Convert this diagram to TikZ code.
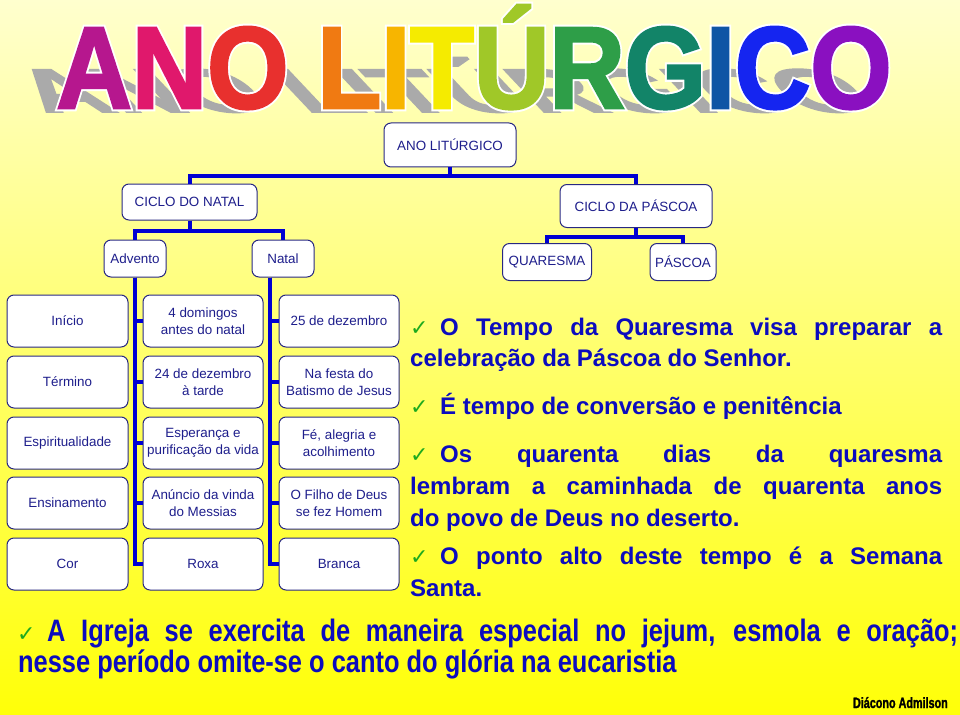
\documentclass[tikz,border=0pt]{standalone}
\usepackage{fontspec}
\setmainfont{Liberation Sans}
\newfontfamily\dejavu{DejaVu Sans}
\newfontfamily\narrowf[FakeStretch=0.82]{Liberation Sans}
\newfontfamily\sigf[FakeStretch=0.72,FakeBold=1.5]{Liberation Sans}
\newfontfamily\titlef[FakeBold=2.5]{Liberation Sans}
\newfontfamily\titleoutf[FakeBold=6]{Liberation Sans}
\usetikzlibrary{calc}
\definecolor{boxc}{RGB}{40,40,130}
\definecolor{txtc}{RGB}{30,30,140}
\definecolor{linec}{RGB}{0,0,210}
\definecolor{bluetxt}{RGB}{12,12,190}
\definecolor{chkc}{RGB}{30,170,30}
\definecolor{bgtop}{RGB}{255,255,206}
\definecolor{bgmid}{RGB}{255,255,140}
\definecolor{bgbot}{RGB}{255,255,8}
\definecolor{shadowc}{RGB}{170,170,170}
\definecolor{t1}{RGB}{182,23,142}
\definecolor{t2}{RGB}{224,24,108}
\definecolor{t3}{RGB}{232,48,46}
\definecolor{t4}{RGB}{240,122,18}
\definecolor{t5}{RGB}{247,181,0}
\definecolor{t6}{RGB}{245,235,0}
\definecolor{t7}{RGB}{160,200,40}
\definecolor{t8}{RGB}{46,158,72}
\definecolor{t9}{RGB}{18,132,104}
\definecolor{t10}{RGB}{15,85,165}
\definecolor{t11}{RGB}{21,37,240}
\definecolor{t12}{RGB}{138,16,192}
\newcommand\lcc[2]{\textcolor{#1}{#2}}
\newcommand\lcp[2]{#2}
\newcommand\lc{\lcc}
\newcommand\titlebody{\fontsize{116}{116}\selectfont\bfseries\scalebox{0.9}[1]{\lc{t1}{A}\lc{t2}{N}\lc{t3}{O} \lc{t4}{L}\lc{t5}{I}\lc{t6}{T}\lc{t7}{Ú}\lc{t8}{R}\lc{t9}{G}\lc{t10}{I}\lc{t11}{C}\lc{t12}{O}}}
\newcommand\chk{{\dejavu\color{chkc}\fontsize{22}{22}\selectfont ✓}}
\begin{document}
\begin{tikzpicture}[x=1pt,y=-1pt,
  box/.style={draw=boxc, fill=white, line width=1pt, rounded corners=7pt, text=txtc, align=center, inner sep=0pt, font=\fontsize{13.4}{17}\selectfont},
  conn/.style={draw=linec, line width=4pt},
  bigtxt/.style={anchor=base west, inner sep=0pt, text=bluetxt, font=\fontsize{24}{32}\selectfont\bfseries},
  lowtxt/.style={anchor=base west, inner sep=0pt, text=bluetxt, font=\narrowf\fontsize{31}{31}\selectfont\bfseries},
  chkn/.style={anchor=base west, inner sep=0pt}]
\useasboundingbox (0,0) rectangle (960,714);
\fill[top color=bgtop, middle color=bgmid, bottom color=bgbot] (0,0) rectangle (960,714);

% title shadow
\begin{scope}[shift={(462,112)}, yscale=0.53, xslant=-0.5]
  \node[transform shape, anchor=base, inner sep=0pt, text=shadowc, font=\titlef] (tshadow) at (0,0) {\let\lc\lcp\titlebody};
\end{scope}
% title white outline and letters
\node[anchor=base, inner sep=0pt, text=white, font=\titleoutf] (tout) at (474,108) {\let\lc\lcp\titlebody};
\node[anchor=base, inner sep=0pt, font=\titlef] (title) at (474,108) {\titlebody};

% tree
\node[box, minimum width=132pt, minimum height=44pt] (ano) at (450,145) {ANO LITÚRGICO};
\node[box, minimum width=135pt, minimum height=36pt] (cn) at (189.5,202) {CICLO DO NATAL};
\node[box, minimum width=152pt, minimum height=43pt] (cp) at (636,206) {CICLO DA PÁSCOA};
\node[box, minimum width=62pt, minimum height=37pt] (adv) at (135,258.5) {Advento};
\node[box, minimum width=62pt, minimum height=37pt] (nat) at (283,258.5) {Natal};
\node[box, minimum width=89pt, minimum height=37pt] (qua) at (547,262) {QUARESMA};
\node[box, minimum width=66pt, minimum height=37pt] (pas) at (683,262) {PÁSCOA};

\draw[conn] (ano.south) -- ++(0,9) -| (cn.north);
\draw[conn] (ano.south) -- ++(0,9) -| (cp.north);
\draw[conn] (cn.south) -- ++(0,10) -| (adv.north);
\draw[conn] (cn.south) -- ++(0,10) -| (nat.north);
\draw[conn] (cp.south) -- ++(0,8.5) -| (qua.north);
\draw[conn] (cp.south) -- ++(0,8.5) -| (pas.north);

% grid
\foreach \r/\y/\a/\b/\c in {
  1/321/{Início}/{4 domingos\\antes do natal}/{25 de dezembro},
  2/382/{Término}/{24 de dezembro\\à tarde}/{Na festa do\\Batismo de Jesus},
  3/443/{Espiritualidade}/{Esperança e\\purificação da vida}/{Fé, alegria e\\acolhimento},
  4/503/{Ensinamento}/{Anúncio da vinda\\do Messias}/{O Filho de Deus\\se fez Homem},
  5/564/{Cor}/{Roxa}/{Branca}} {
  \node[box, minimum width=121pt, minimum height=52pt] (a\r) at (67.5,\y) {\a};
  \node[box, minimum width=120pt, minimum height=52pt] (b\r) at (203,\y) {\b};
  \node[box, minimum width=120pt, minimum height=52pt] (c\r) at (339,\y) {\c};
}
\coordinate (nv) at ([xshift=-13pt]nat.south);
\foreach \r in {1,...,5} {
  \draw[conn] (adv.south) |- (b\r.west);
  \draw[conn] (nv) |- (c\r.west);
}

% right text
\node[chkn] (k1) at (410,335) {\chk};
\node[bigtxt] (l1) at (440,335) {\makebox[502pt][s]{O Tempo da Quaresma visa preparar a}};
\node[bigtxt] (l2) at (410,366) {celebração da Páscoa do Senhor.};
\node[chkn] (k2) at (410,414) {\chk};
\node[bigtxt] (l3) at (440,414) {É tempo de conversão e penitência};
\node[chkn] (k3) at (410,462) {\chk};
\node[bigtxt] (l4) at (440,462) {\makebox[502pt][s]{Os quarenta dias da quaresma}};
\node[bigtxt] (l5) at (410,494) {\makebox[532pt][s]{lembram a caminhada de quarenta anos}};
\node[bigtxt] (l6) at (410,526) {do povo de Deus no deserto.};
\node[chkn] (k4) at (410,564) {\chk};
\node[bigtxt] (l7) at (440,564) {\makebox[502pt][s]{O ponto alto deste tempo é a Semana}};
\node[bigtxt] (l8) at (410,596) {Santa.};

% bottom text
\node[chkn] (k5) at (17,641) {\chk};
\node[lowtxt] (m1) at (47,641) {\makebox[911pt][s]{A Igreja se exercita de maneira especial no jejum, esmola e oração;}};
\node[lowtxt] (m2) at (18,672) {nesse período omite-se o canto do glória na eucaristia};

\node[anchor=base east, inner sep=0pt, font=\sigf\fontsize{15}{15}\selectfont\bfseries] (sig) at (948,708) {Diácono Admilson};
\end{tikzpicture}
\end{document}
